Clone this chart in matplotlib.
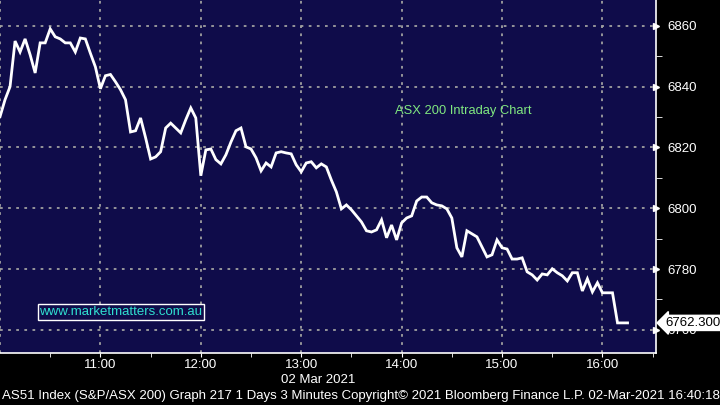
import numpy as np
import matplotlib.pyplot as plt
import matplotlib.dates as mdates
from datetime import datetime, timedelta

plt.rcParams['font.family'] = ['Liberation Sans', 'DejaVu Sans']

# ASX 200 intraday, 3 minute bars from 10:00
prices = [
    6830.1, 6835.7, 6840.0, 6855.0, 6851.4, 6855.7, 6850.5, 6844.5, 6854.4, 6854.4,
    6859.0, 6856.4, 6855.7, 6854.4, 6854.4, 6851.4, 6856.0, 6855.7, 6851.0, 6846.5,
    6839.3, 6843.6, 6844.0, 6841.6, 6839.0, 6835.7, 6825.1, 6825.5, 6829.7, 6823.2,
    6816.2, 6816.9, 6818.6, 6826.4, 6828.0, 6826.4, 6824.8, 6829.1, 6833.0, 6829.7,
    6810.7, 6819.2, 6819.5, 6816.0, 6814.6, 6817.6, 6821.8, 6825.5, 6826.4, 6820.2,
    6819.5, 6816.6, 6812.3, 6814.9, 6813.6, 6818.2, 6818.6, 6818.2, 6817.9, 6814.3,
    6812.0, 6814.9, 6815.3, 6813.3, 6814.6, 6813.6, 6809.3, 6805.4, 6799.8, 6801.1,
    6799.5, 6797.5, 6795.5, 6792.6, 6792.2, 6792.9, 6796.2, 6790.3, 6794.5, 6789.6,
    6795.2, 6796.8, 6797.5, 6802.4, 6803.7, 6803.7, 6801.8, 6801.1, 6800.8, 6799.8,
    6796.8, 6787.0, 6784.0, 6792.6, 6791.6, 6790.6, 6787.3, 6784.0, 6784.7, 6789.6,
    6787.0, 6786.6, 6783.3, 6783.3, 6783.7, 6779.1, 6778.1, 6776.4, 6778.4, 6778.1,
    6780.1, 6778.8, 6777.8, 6776.1, 6778.8, 6778.8, 6772.8, 6776.8, 6772.5, 6775.5,
    6772.2, 6772.2, 6772.2, 6762.3, 6762.3, 6762.3,
]
start = datetime(2021, 3, 2, 10, 0)
times = [start + timedelta(minutes=3 * i) for i in range(len(prices))]

y_ticks = [6760, 6780, 6800, 6820, 6840, 6860]
x_ticks = [datetime(2021, 3, 2, h, 0) for h in range(11, 17)]
last_price = 6762.3

bg = '#0f0c4a'
fig = plt.figure(figsize=(7.2, 4.05), dpi=100, facecolor='black')
ax = fig.add_axes([0, 1 - 353 / 405, 656 / 720, 353 / 405])
ax.set_facecolor(bg)

ax.plot(times, prices, color='white', lw=2, solid_joinstyle='miter', zorder=3)

ax.set_xlim(start, start + timedelta(minutes=392))
ax.set_ylim(6752.4, 6868.5)

ax.yaxis.tick_right()
ax.set_yticks(y_ticks)
ax.set_yticks([6770, 6790, 6810, 6830, 6850], minor=True)
ax.set_xticks(x_ticks)
ax.set_xticks([datetime(2021, 3, 2, 10, 30) + timedelta(hours=h) for h in range(7)], minor=True)
ax.xaxis.set_major_formatter(mdates.DateFormatter('%H:%M'))

grid_style = dict(color='#a0a0a0', ls=(0, (1.5, 3)), lw=1.3)
ax.grid(True, which='major', **grid_style)
ax.axvline(start, **grid_style)
ax.tick_params(axis='y', which='major', length=0, pad=8, labelsize=9.5, labelcolor='white')
ax.tick_params(axis='y', which='minor', length=4, color='white', direction='out')
ax.tick_params(axis='x', which='major', length=3, color='white', direction='out',
               labelsize=9.5, labelcolor='white', pad=1)
ax.tick_params(axis='x', which='minor', length=3, color='white', direction='out')

for s in ['left', 'top']:
    ax.spines[s].set_visible(False)
for s in ['right', 'bottom']:
    ax.spines[s].set_color('white')
    ax.spines[s].set_linewidth(1.2)

# arrow markers on major y ticks
ax.plot([1.0] * len(y_ticks), y_ticks, marker='>', color='white', ms=5,
        ls='none', transform=ax.get_yaxis_transform(), clip_on=False)

ax.text(0.602, 0.686, 'ASX 200 Intraday Chart', transform=ax.transAxes,
        color='#80e880', fontsize=9.3, va='center')
ax.text(0.06, 0.116, 'www.marketmatters.com.au', transform=ax.transAxes,
        color='#30e0d0', fontsize=9.5, va='center',
        bbox=dict(boxstyle='square,pad=0.12', fc=bg, ec='white', lw=1))

ax.annotate(f'{last_price:.3f}', xy=(1.0, last_price), xycoords=('axes fraction', 'data'),
            xytext=(6.5, 0), textcoords='offset points', va='center', ha='left',
            fontsize=9.5, color='black', zorder=5,
            bbox=dict(boxstyle='larrow,pad=0.12', fc='white', ec='white'))

fig.text(318 / 720, 1 - 380 / 405, '02 Mar 2021', color='white', fontsize=9.5,
         ha='center', va='center')
fig.text(0.003, 1 - 396 / 405,
         'AS51 Index (S&P/ASX 200) Graph 217 1 Days 3 Minutes Copyright\u00a9 2021 '
         'Bloomberg Finance L.P. 02-Mar-2021 16:40:18',
         color='white', fontsize=9.55, ha='left', va='center')

fig.savefig('out.png', dpi=100, facecolor='black')
